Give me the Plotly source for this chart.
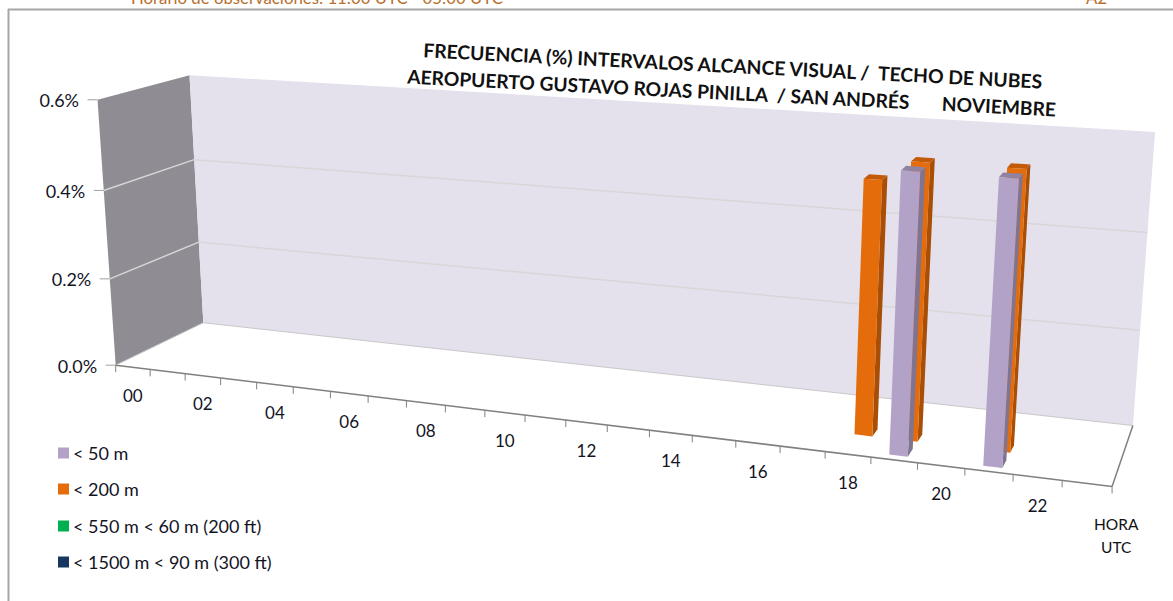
import numpy as np
import plotly.graph_objects as go

HOURS = list(range(24))
SERIES = ["< 50 m", "< 200 m", "< 550 m < 60 m (200 ft)", "< 1500 m < 90 m (300 ft)"]
v50 = {19: 0.56, 21: 0.56}
v200 = {18: 0.52, 19: 0.56, 21: 0.56}
lt50 = [v50.get(h, 0) for h in HOURS]
lt200 = [v200.get(h, 0) for h in HOURS]
lt550 = [0] * 24
lt1500 = [0] * 24
VALUES = [lt50, lt200, lt550, lt1500]
COLORS = ["#B3A2C7", "#E46C0A", "#00B050", "#17375E"]
SIDE = ["#7F7491", "#A84E06", "#007A38", "#0F2640"]
TOP = ["#8F83A0", "#C25A07", "#009040", "#12304F"]
VTICKS = [0.0, 0.2, 0.4, 0.6]
VMAX = 0.6
XLABELS = ["%02d" % h for h in HOURS if h % 2 == 0]
TITLE1 = "FRECUENCIA (%) INTERVALOS ALCANCE VISUAL /  TECHO DE NUBES"
TITLE2 = "AEROPUERTO GUSTAVO ROJAS PINILLA  / SAN ANDRÉS       NOVIEMBRE"

# calibration of the oblique view: (hour frac, depth frac, value frac) -> page pixel
_cal = [((0, 0, 0), (116, 365)), ((0, 0, 1), (97, 100)), ((0, 1, 0), (203, 323)),
        ((0, 1, 1), (190, 75)), ((1, 1, 0), (1133, 425)), ((1, 1, 1), (1155, 132)),
        ((1, 0, 0), (1112, 487)), ((0, 0, 2 / 3), (104, 190)), ((0, 1, 2 / 3), (194, 160))]
_A = []
for (a, b, c), (px, py) in _cal:
    _A.append([a, b, c, 1, 0, 0, 0, 0, -px * a, -px * b, -px * c, -px])
    _A.append([0, 0, 0, 0, a, b, c, 1, -py * a, -py * b, -py * c, -py])
P = np.linalg.svd(np.array(_A, float))[2][-1].reshape(3, 4)


def proj(hour, depth, value):
    """hour in category units, depth in series units, value in percent."""
    q = P @ np.array([hour / 24, depth / 4, value / VMAX, 1.0])
    return q[0] / q[2], q[1] / q[2]


def poly(points):
    xy = [proj(*p) for p in points + points[:1]]
    return [a for a, _ in xy] + [None], [b for _, b in xy] + [None]


def face(points, color, name=None):
    xs, ys = poly(points)
    return go.Scatter(x=xs, y=ys, mode="lines", fill="toself", fillcolor=color,
                      line=dict(width=0, color=color), hoverinfo="skip", showlegend=False, name=name)


def line(a, b, color, width=1):
    return go.Scatter(x=[proj(*a)[0], proj(*b)[0]], y=[proj(*a)[1], proj(*b)[1]], mode="lines",
                      line=dict(color=color, width=width), hoverinfo="skip", showlegend=False)


fig = go.Figure()
# walls
fig.add_trace(face([(0, 0, 0), (0, 0, VMAX), (0, 4, VMAX), (0, 4, 0)], "#8F8D93"))
fig.add_trace(face([(0, 4, 0), (0, 4, VMAX), (24, 4, VMAX), (24, 4, 0)], "#E4E0EC"))
for v in VTICKS[1:-1]:
    fig.add_trace(line((0, 0, v), (0, 4, v), "#D6D5D8", 1.5))
    fig.add_trace(line((0, 4, v), (24, 4, v), "#DAD6D8", 1.5))
fig.add_trace(line((0, 4, 0), (24, 4, 0), "#C9C7C9", 1))
fig.add_trace(line((0, 0, 0), (0, 4, 0), "#C8C8C8", 1))
fig.add_trace(line((24, 0, 0), (24, 4, 0), "#808080", 1.5))
fig.add_trace(line((0, 0, 0), (24, 0, 0), "#808080", 1.5))

# axis ticks
for h in range(25):
    x, y = proj(h, 0, 0)
    fig.add_trace(go.Scatter(x=[x, x], y=[y, y + 7], mode="lines", line=dict(color="#808080", width=1),
                             hoverinfo="skip", showlegend=False))
for v in VTICKS:
    x, y = proj(0, 0, v)
    fig.add_trace(go.Scatter(x=[x - 10, x], y=[y, y], mode="lines", line=dict(color="#A0A0A0", width=1),
                             hoverinfo="skip", showlegend=False))

# bars, back series first
BW, BC = 0.20, 0.53
for s in [3, 2, 1, 0]:
    for h in sorted(HOURS, reverse=True):
        val = VALUES[s][h]
        if val <= 0:
            continue
        x0, x1 = h + BC - BW, h + BC + BW
        d0, d1 = s + 0.3, s + 0.8
        fig.add_trace(face([(x1, d0, 0), (x1, d1, 0), (x1, d1, val), (x1, d0, val)], SIDE[s]))
        fig.add_trace(face([(x0, d0, val), (x1, d0, val), (x1, d1, val), (x0, d1, val)], TOP[s]))
        fig.add_trace(face([(x0, d0, 0), (x1, d0, 0), (x1, d0, val), (x0, d0, val)], COLORS[s], SERIES[s]))

FONT = "Lato"
TXT = "#14141F"
# value labels
vx, vy, vt = [], [], []
for v in VTICKS:
    x, y = proj(0, 0, v)
    vx.append(x - 18.5); vy.append(y + 3); vt.append("%.1f%%" % v)
fig.add_trace(go.Scatter(x=vx, y=vy, text=vt, mode="text", textposition="middle left",
                         textfont=dict(family=FONT, size=18, color=TXT), hoverinfo="skip", showlegend=False))
# category labels
cx, cy = [], []
for lab in XLABELS:
    x, y = proj(int(lab) + 0.5, 0, 0)
    cx.append(x); cy.append(y + 30)
fig.add_trace(go.Scatter(x=cx, y=cy, text=XLABELS, mode="text", textposition="middle center",
                         textfont=dict(family=FONT, size=17, color=TXT), hoverinfo="skip", showlegend=False))

# legend
LEG_X = 63.5
LEG_Y = [453, 489, 526, 562]
for name, col, ly in zip(SERIES, COLORS, LEG_Y):
    fig.add_trace(go.Scatter(x=[LEG_X], y=[ly], mode="markers", marker=dict(symbol="square", size=11, color=col),
                             hoverinfo="skip", showlegend=False))
    fig.add_trace(go.Scatter(x=[LEG_X + 9.5], y=[ly + 2], text=[name], mode="text", textposition="middle right",
                             textfont=dict(family=FONT, size=18, color=TXT), hoverinfo="skip", showlegend=False))

ann = [
    dict(x=733, y=65, text="<b>%s</b>" % TITLE1.replace("  ", "&nbsp;&nbsp;"), textangle=2.9, size=19.3),
    dict(x=731, y=92, text="<b>%s</b>" % TITLE2.replace("       ", "&nbsp;" * 7).replace("  ", "&nbsp;&nbsp;"), textangle=2.9, size=19.2),
    dict(x=1116, y=524, text="HORA", textangle=0, size=15.5),
    dict(x=1116, y=547, text="UTC", textangle=0, size=15.5),
]
annotations = [dict(x=a["x"], y=a["y"], xref="x", yref="y", text=a["text"], showarrow=False, textangle=a["textangle"],
                    xanchor="center", yanchor="middle",
                    font=dict(family=FONT, size=a["size"], color="#111111")) for a in ann]
# running header of the page, cut off by the top edge as in the reference
for x, text in [(317, "Horario de observaciones: 11:00 UTC - 05:00 UTC"), (1096, "A2")]:
    annotations.append(dict(x=x, y=1 + 3 / 601, xref="x", yref="paper", text=text, showarrow=False,
                            xanchor="center", yanchor="middle", font=dict(family=FONT, size=16.8, color="#B8702E")))

frame = [dict(type="line", xref="x", yref="y", x0=8, y0=9.5, x1=1173, y1=9.5, line=dict(color="#A6A6A6", width=2)),
         dict(type="line", xref="x", yref="y", x0=8.5, y0=9, x1=8.5, y1=601, line=dict(color="#A6A6A6", width=2))]

fig.update_layout(width=1173, height=601, margin=dict(l=0, r=0, t=0, b=0), paper_bgcolor="white", plot_bgcolor="white",
                  showlegend=False, annotations=annotations, shapes=frame,
                  xaxis=dict(range=[0, 1173], visible=False, fixedrange=True),
                  yaxis=dict(range=[601, 0], visible=False, fixedrange=True))
fig.write_html("out.html", config={"displayModeBar": False},
               post_script="document.body.style.margin='0';document.body.style.overflow='hidden';")
